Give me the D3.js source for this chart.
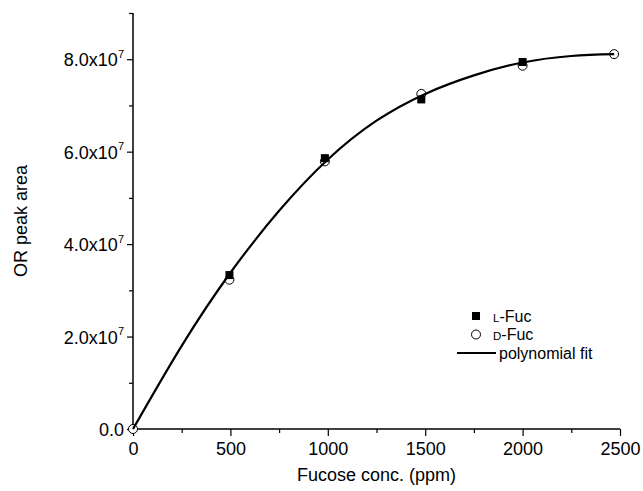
<!DOCTYPE html>
<html>
<head>
<meta charset="utf-8">
<script src="https://cdn.jsdelivr.net/npm/d3@7"></script>
<style>
    body { margin: 0; background: #fff; }
    svg { font-family: "Liberation Sans", Arial, sans-serif; }
</style>
</head>
<body>
<div id="chart"></div>
<script>

// values
var lFucX = [495, 985, 1480, 2000];
var lFucY = [3.33e7, 5.86e7, 7.13e7, 7.94e7];

var dFucX = [0, 495, 985, 1480, 2000, 2470];
var dFucY = [0, 3.23e7, 5.79e7, 7.25e7, 7.86e7, 8.11e7];

// polynomial fit
var fitX = [0, 250, 500, 750, 1000, 1250, 1500, 1750, 2000, 2250, 2470];
var fitY = [0, 1.8e7, 3.38e7, 4.72e7, 5.83e7, 6.67e7, 7.25e7, 7.65e7, 7.93e7, 8.07e7, 8.11e7];

var xTicks = [0, 500, 1000, 1500, 2000, 2500];
var yTicks = [0, 2e7, 4e7, 6e7, 8e7];
var yTickLabels = ["0.0", "2.0x10", "4.0x10", "6.0x10", "8.0x10"];

var width = 643,
    height = 491;

var margin = {
    top: 13,
    bottom: 62,
    left: 133,
    right: 23
};

var svg = d3.select("#chart")
    .append("svg")
    .attr("width", width)
    .attr("height", height);

var x = d3.scaleLinear()
    .domain([0, 2500])
    .range([margin.left, width - margin.right]);

var y = d3.scaleLinear()
    .domain([0, 9e7])
    .range([height - margin.bottom, margin.top]);

var axisY = height - margin.bottom;

// x axis
var xAxis = svg.append("g")
    .attr("transform", "translate(0," + axisY + ")")
    .call(d3.axisBottom(x).tickValues(d3.range(0, 2501, 250)).tickSize(4).tickFormat(""));

xAxis.selectAll(".tick line")
    .attr("y2", function (d) { return d % 500 === 0 ? 7 : 4; });

xAxis.selectAll(".tick").filter(function (d) { return xTicks.indexOf(d) >= 0; })
    .append("text")
    .attr("y", 26)
    .attr("fill", "#000")
    .attr("font-size", "18px")
    .attr("text-anchor", "middle")
    .text(function (d) { return d; });

xAxis.select(".domain").attr("d", "M" + x(0) + ",0H" + x(2500)).attr("stroke-width", 1.5);
xAxis.selectAll(".tick line").attr("stroke-width", 1.2);

// y axis
var yAxis = svg.append("g")
    .attr("transform", "translate(" + margin.left + ",0)")
    .call(d3.axisLeft(y).tickValues(d3.range(0, 9e7 + 1, 1e7)).tickSize(4).tickFormat(""));

yAxis.selectAll(".tick line")
    .attr("x2", function (d) { return yTicks.indexOf(d) >= 0 ? -6 : -4; });

var yLab = yAxis.selectAll(".tick").filter(function (d) { return yTicks.indexOf(d) >= 0; })
    .append("text")
    .attr("x", -9)
    .attr("dy", "0.36em")
    .attr("fill", "#000")
    .attr("font-size", "18px")
    .attr("text-anchor", "end");

yLab.each(function (d) {
    var i = yTicks.indexOf(d);
    var t = d3.select(this);
    t.append("tspan").text(yTickLabels[i]);
    if (d !== 0) {
        t.append("tspan")
            .attr("font-size", "11px")
            .attr("dy", "-0.75em")
            .text("7");
    }
});

yAxis.select(".domain").attr("d", "M0," + y(0) + "V" + y(9e7)).attr("stroke-width", 1.5);
yAxis.selectAll(".tick line").attr("stroke-width", 1.2);

// axis titles
svg.append("text")
    .attr("x", (x(0) + x(2500)) / 2)
    .attr("y", 481)
    .attr("text-anchor", "middle")
    .attr("font-size", "18px")
    .text("Fucose conc. (ppm)");

svg.append("text")
    .attr("transform", "translate(27," + ((y(0) + y(9e7)) / 2) + ") rotate(-90)")
    .attr("text-anchor", "middle")
    .attr("font-size", "18px")
    .text("OR peak area");

// markers
var plot = svg.append("g");

plot.selectAll("circle.dfuc")
    .data(dFucX)
    .enter().append("circle")
    .attr("class", "dfuc")
    .attr("cx", function (d) { return x(d); })
    .attr("cy", function (d, i) { return y(dFucY[i]); })
    .attr("r", 4.5)
    .attr("fill", "#fff")
    .attr("stroke", "#000")
    .attr("stroke-width", 1);

plot.selectAll("rect.lfuc")
    .data(lFucX)
    .enter().append("rect")
    .attr("class", "lfuc")
    .attr("x", function (d) { return x(d) - 4; })
    .attr("y", function (d, i) { return y(lFucY[i]) - 4; })
    .attr("width", 8)
    .attr("height", 8)
    .attr("fill", "#000");

// fit line
var line = d3.line()
    .x(function (d) { return x(d); })
    .y(function (d, i) { return y(fitY[i]); })
    .curve(d3.curveNatural);

plot.append("path")
    .datum(fitX)
    .attr("d", line)
    .attr("fill", "none")
    .attr("stroke", "#000")
    .attr("stroke-width", 2.2);

// legend
var rowH = 18.5;

var legend = svg.append("g")
    .attr("transform", "translate(476," + (353 - 2 * rowH) + ")");

legend.append("rect")
    .attr("x", -4).attr("y", -4)
    .attr("width", 8).attr("height", 8)
    .attr("fill", "#000");

legend.append("circle")
    .attr("cx", 0).attr("cy", rowH)
    .attr("r", 4.5)
    .attr("fill", "#fff")
    .attr("stroke", "#000");

legend.append("line")
    .attr("x1", -19).attr("x2", 20)
    .attr("y1", rowH * 2).attr("y2", rowH * 2)
    .attr("stroke", "#000")
    .attr("stroke-width", 2.2);

var names = [["L", "-Fuc"], ["D", "-Fuc"], ["", "polynomial fit"]];

names.forEach(function (n, i) {
    var t = legend.append("text")
        .attr("x", i === 2 ? 23 : 17)
        .attr("y", i * rowH)
        .attr("dy", "0.36em")
        .attr("font-size", "16px");
    if (n[0]) {
        t.append("tspan").attr("font-size", "11.5px").text(n[0]);
    }
    t.append("tspan").text(n[1]);
});

</script>
</body>
</html>
